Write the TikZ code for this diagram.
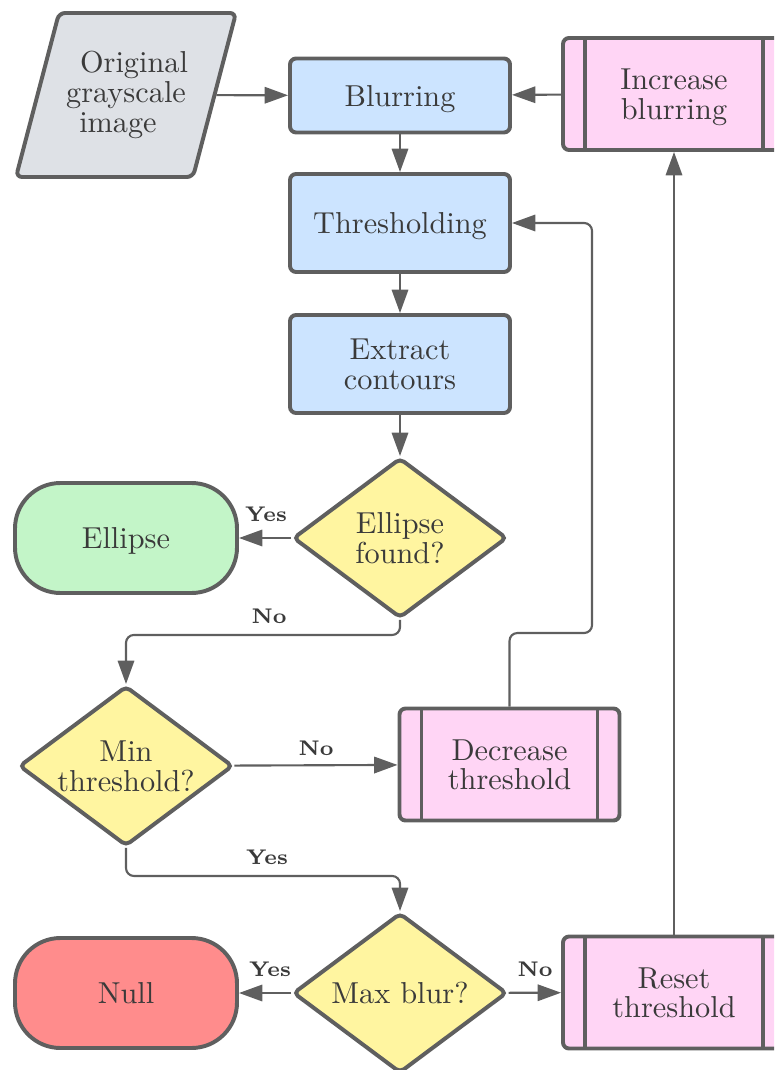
\documentclass[tikz,border=0pt]{standalone}
\usetikzlibrary{shapes.geometric,arrows.meta}
\definecolor{lineC}{RGB}{95,95,95}
\definecolor{textC}{RGB}{58,58,58}
\definecolor{blueF}{RGB}{204,228,255}
\definecolor{grayF}{RGB}{222,225,230}
\definecolor{pinkF}{RGB}{255,213,245}
\definecolor{yellowF}{RGB}{255,245,160}
\definecolor{greenF}{RGB}{195,245,200}
\definecolor{redF}{RGB}{255,140,140}
\begin{document}
\begin{tikzpicture}[x=0.33pt,y=-0.33pt,
  base/.style={draw=lineC, line width=1.3pt, text=textC,
    font=\fontsize{10pt}{9.8pt}\selectfont, align=center, inner sep=0pt},
  proc/.style={base, text depth=0pt, rectangle, rounded corners=2pt, fill=blueF,
    minimum width=72.6pt},
  predef/.style={base, text depth=0pt, rectangle, rounded corners=2pt, fill=pinkF,
    minimum height=36.96pt,
    path picture={
      \draw[lineC, line width=1.3pt]
        ([xshift=7.26pt]path picture bounding box.north west) --
        ([xshift=7.26pt]path picture bounding box.south west);
      \draw[lineC, line width=1.3pt]
        ([xshift=-7.26pt]path picture bounding box.north east) --
        ([xshift=-7.26pt]path picture bounding box.south east);}},
  decis/.style={base, text depth=0pt, diamond, fill=yellowF, rounded corners=1.6pt,
    minimum width=70.62pt, minimum height=52.8pt, aspect=1.34},
  term/.style={base, text depth=0pt, rectangle, rounded corners=15pt,
    minimum width=73.26pt, minimum height=36.3pt},
  conn/.style={draw=lineC, line width=0.7pt, rounded corners=2.6pt,
    -{Triangle[length=7.7pt,width=5.4pt]}},
  lbl/.style={text=textC, font=\fontsize{7pt}{8pt}\selectfont\bfseries,
    inner sep=0pt}
]
\useasboundingbox (0,0) rectangle (774,1070);
\clip (0,0) rectangle (774,1070);

% input parallelogram
\draw[draw=lineC, line width=1.3pt, fill=grayF, rounded corners=2pt]
  (59,13) -- (236,13) -- (193,177) -- (16,177) -- cycle;
\node[base, draw=none, minimum width=58.41pt, minimum height=54.45pt] (img) at (126,95)
  {\hspace*{5.3pt}Original\\grayscale\\image\hspace*{5.3pt}};

% process boxes
\node[proc, minimum height=24.42pt] (blur) at (400,95.5) {Blurring};
\node[proc, minimum height=32.34pt] (thr) at (400,223) {Thresholding};
\node[proc, minimum height=32.34pt] (ext) at (400,364) {Extract\\contours};

% predefined processes
\node[predef, minimum width=73.26pt] (inc) at (674,94) {Increase\\blurring};
\node[predef, minimum width=72.6pt] (dec) at (509.5,764.5) {Decrease\\threshold};
\node[predef, minimum width=73.26pt] (reset) at (674,992.5) {Reset\\threshold};

% decisions
\node[decis] (ef) at (400,538) {Ellipse\\found?};
\node[decis] (minT) at (126,766) {Min\\threshold?};
\node[decis] (maxB) at (400,993) {Max blur?};

% terminals
\node[term, fill=greenF] (ell) at (126,538) {Ellipse};
\node[term, fill=redF] (null) at (126,993) {Null};

% connectors
\draw[conn] (img) -- (blur);
\draw[conn] (inc) -- (blur);
\draw[conn] (blur) -- (thr);
\draw[conn] (thr) -- (ext);
\draw[conn] (ext) -- (ef);
\draw[conn] (ef) -- (ell);
\draw[conn] (ef.south) -- ++(0,15) -| (minT.north);
\draw[conn] (minT) -- (dec);
\draw[conn] (dec.north) |- (592,633) |- (thr.east);
\draw[conn] (minT.south) -- ++(0,28) -| (maxB.north);
\draw[conn] (maxB) -- (null);
\draw[conn] (maxB) -- (reset);
\draw[conn] (reset) -- (inc);

% labels
\node[lbl] (l1) at (266,514) {Yes};
\node[lbl] (l2) at (269,616) {No};
\node[lbl] (l3) at (316,748) {No};
\node[lbl] (l4) at (267,857) {Yes};
\node[lbl] (l5) at (270,969) {Yes};
\node[lbl] (l6) at (535,969) {No};
\end{tikzpicture}
\end{document}
